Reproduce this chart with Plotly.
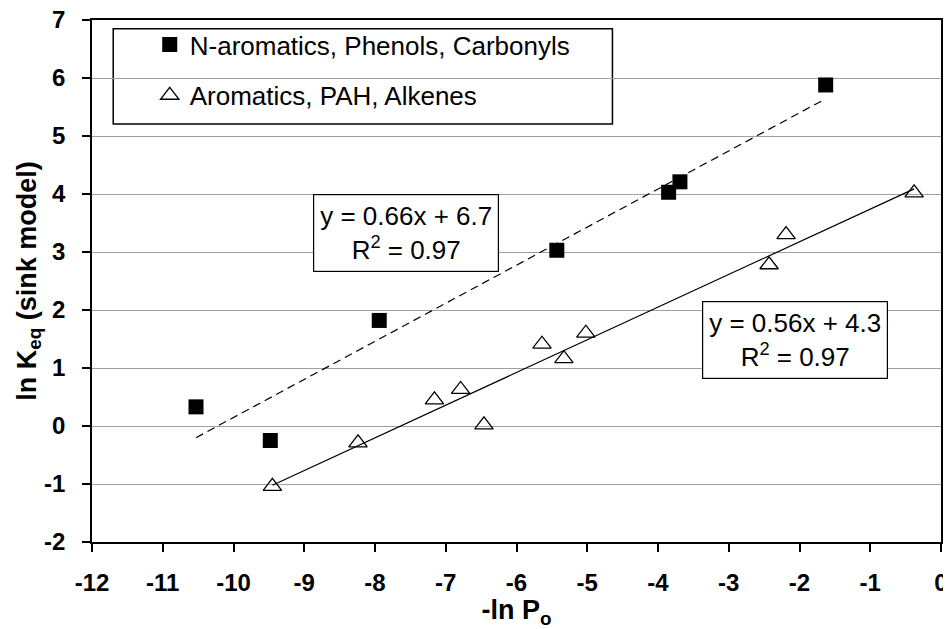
import numpy as np
import plotly.graph_objects as go

# N-aromatics, Phenols, Carbonyls (filled squares)
nap_x = [-10.53, -9.48, -7.94, -5.43, -3.85, -3.69, -1.63]
nap_y = [0.33, -0.25, 1.82, 3.03, 4.03, 4.21, 5.88]

# Aromatics, PAH, Alkenes (open triangles)
arom_x = [-9.45, -8.24, -7.16, -6.79, -6.46, -5.64, -5.33, -5.02, -2.43, -2.19, -0.38]
arom_y = [-1.04, -0.29, 0.45, 0.63, 0.02, 1.41, 1.16, 1.60, 2.78, 3.30, 4.02]

series_names = ["N-aromatics, Phenols, Carbonyls", "Aromatics, PAH, Alkenes"]
fit_labels = ["y = 0.66x + 6.7<br>R<sup>2</sup> = 0.97",
              "y = 0.56x + 4.3<br>R<sup>2</sup> = 0.97"]

x_ticks = list(range(-12, 1))
y_ticks = list(range(-2, 8))

FONT = "Liberation Sans, Arial, sans-serif"


def trend(xs, ys):
    # linear least-squares trendline over the data range (like Excel)
    k, b = np.polyfit(xs, ys, 1)
    xr = np.array([min(xs), max(xs)])
    return xr, k * xr + b


fig = go.Figure()

tx, ty = trend(nap_x, nap_y)
fig.add_trace(go.Scatter(x=tx, y=ty, mode="lines", showlegend=False,
                         line=dict(color="black", width=1.2, dash="8px,5px")))
tx, ty = trend(arom_x, arom_y)
fig.add_trace(go.Scatter(x=tx, y=ty, mode="lines", showlegend=False,
                         line=dict(color="black", width=1.2)))

fig.add_trace(go.Scatter(x=nap_x, y=nap_y, mode="markers", name=series_names[0],
                         legendgroup="a",
                         marker=dict(symbol="square", size=15, color="black")))
fig.add_trace(go.Scatter(x=arom_x, y=arom_y, mode="markers", name=series_names[1],
                         legendgroup="b",
                         marker=dict(symbol="triangle-up-open", size=16, color="black",
                                     line=dict(width=1.3))))

# legend frame
fig.add_shape(type="rect", xref="paper", yref="paper",
              x0=0.025, x1=0.613, y0=0.801, y1=0.983,
              line=dict(color="black", width=1.5), fillcolor="white", layer="below")

fig.add_annotation(x=-7.56, y=3.33, text=fit_labels[0], showarrow=False,
                   font=dict(family=FONT, size=26, color="black"),
                   bgcolor="white", bordercolor="black", borderwidth=1.2, borderpad=6)
fig.add_annotation(x=-2.06, y=1.48, text=fit_labels[1], showarrow=False,
                   font=dict(family=FONT, size=26, color="black"),
                   bgcolor="white", bordercolor="black", borderwidth=1.2, borderpad=6)

# page body has an 8px margin, so the figure is a bit smaller than the window
fig.update_layout(
    width=943, height=621,
    margin=dict(l=84, r=10, t=12, b=87, autoexpand=False),
    paper_bgcolor="white", plot_bgcolor="white",
    font=dict(family=FONT, color="black"),
    legend=dict(x=0.068, y=0.998, xanchor="left", yanchor="top",
                bgcolor="rgba(0,0,0,0)", borderwidth=0,
                font=dict(family=FONT, size=26), tracegroupgap=14),
    showlegend=True,
)

fig.update_xaxes(
    range=[-12, 0], tickmode="array", tickvals=x_ticks,
    ticktext=["<b>%d</b>" % v for v in x_ticks],
    showgrid=False, zeroline=False, automargin=False,
    ticklabeloverflow="allow",
    showline=True, linecolor="black", linewidth=1.5, mirror=True,
    ticks="outside", ticklen=8, tickcolor="black", tickwidth=1.5,
    ticklabelstandoff=10,
    tickfont=dict(family=FONT, size=24),
    title=dict(text="<b>-ln P<sub>o</sub></b>", standoff=14,
               font=dict(family=FONT, size=27)),
)
fig.update_yaxes(
    range=[-2, 7], tickmode="array", tickvals=y_ticks,
    ticktext=["<b>%d</b>" % v for v in y_ticks],
    showgrid=True, gridcolor="#a0a0a0", gridwidth=1, zeroline=False,
    automargin=False, ticklabeloverflow="allow",
    showline=True, linecolor="black", linewidth=1.5, mirror=True,
    ticks="outside", ticklen=8, tickcolor="black", tickwidth=1.5,
    ticklabelstandoff=12,
    tickfont=dict(family=FONT, size=24),
    title=dict(text="<b>ln K<sub>eq</sub> (sink model)</b>", standoff=0,
               font=dict(family=FONT, size=27)),
)

fig.write_html("out.html")
